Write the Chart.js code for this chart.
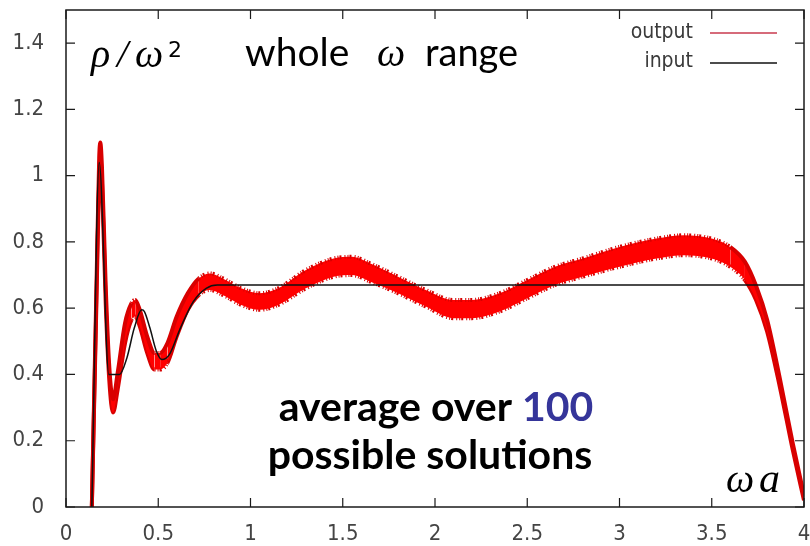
<!DOCTYPE html>
<html>
<head>
<meta charset="utf-8">
<script src="https://cdn.jsdelivr.net/npm/chart.js@4.4.1/dist/chart.umd.min.js"></script>
<style>
  body { margin: 0; background: #fff; }
  #wrap { width: 810px; height: 546px; }
</style>
</head>
<body>
<div id="wrap"><canvas id="myChart" width="810" height="546"></canvas></div>
<script>
// x values (omega a) for the output band
var omega = [0.14, 0.165, 0.18, 0.186, 0.195, 0.215, 0.235, 0.255, 0.28, 0.32, 0.355, 0.375, 0.40, 0.44, 0.48, 0.51,
             0.55, 0.60, 0.66, 0.72, 0.78, 0.85, 0.95, 1.05, 1.15, 1.30, 1.45, 1.55, 1.65, 1.80, 1.95, 2.10,
             2.20, 2.35, 2.50, 2.65, 2.80, 3.00, 3.20, 3.35, 3.50, 3.60, 3.68, 3.74, 3.80, 3.87, 3.94, 4.00];
// lower / upper edge of the noisy red band
var outputLow = [0.00, 0.62, 1.00, 1.055, 0.98, 0.62, 0.38, 0.285, 0.355, 0.495, 0.565, 0.575, 0.545, 0.465, 0.415, 0.415,
                 0.435, 0.515, 0.595, 0.64, 0.655, 0.64, 0.61, 0.595, 0.61, 0.66, 0.695, 0.70, 0.68, 0.645, 0.605, 0.57,
                 0.57, 0.59, 0.63, 0.67, 0.695, 0.725, 0.75, 0.76, 0.75, 0.725, 0.685, 0.625, 0.53, 0.36, 0.17, 0.02];
var outputHigh = [0.00, 0.66, 1.055, 1.10, 1.025, 0.67, 0.42, 0.325, 0.405, 0.555, 0.615, 0.625, 0.595, 0.515, 0.465, 0.465,
                  0.495, 0.575, 0.645, 0.69, 0.705, 0.69, 0.66, 0.645, 0.66, 0.715, 0.75, 0.755, 0.735, 0.695, 0.655, 0.625,
                  0.625, 0.645, 0.685, 0.725, 0.75, 0.785, 0.81, 0.82, 0.81, 0.785, 0.74, 0.668, 0.565, 0.385, 0.19, 0.035];
// input curve
var inputOmega = [0.14, 0.18, 0.232, 0.29, 0.33, 0.37, 0.41, 0.425, 0.455, 0.49, 0.52, 0.56, 0.62, 0.69, 0.76, 0.82, 4.0];
var inputRho = [0.00, 1.04, 0.40, 0.40, 0.45, 0.54, 0.595, 0.59, 0.54, 0.47, 0.445, 0.46, 0.54, 0.62, 0.66, 0.67, 0.67];

var xTicks = [0, 0.5, 1, 1.5, 2, 2.5, 3, 3.5, 4];
var yTicks = [0, 0.2, 0.4, 0.6, 0.8, 1, 1.2, 1.4];

var tickFamily = '"DejaVu Sans Condensed", "DejaVu Sans", sans-serif';

function pts(xs, ys) {
    return xs.map(function(x, i) { return { x: x, y: ys[i] }; });
}

// noisy edge: short dashes on flat parts, solid where the curve is steep
function edgeDash(c) {
    var dx = Math.abs(c.p1.x - c.p0.x), dy = Math.abs(c.p1.y - c.p0.y);
    return dy > dx ? [] : [1, 2, 1, 1, 2, 3];
}

// frame + inward ticks on all sides (gnuplot look)
var framePlugin = {
    id: 'frame',
    afterDatasetsDraw: function(chart) {
        var c = chart.ctx, a = chart.chartArea;
        var xs = chart.scales.x, ys = chart.scales.y;
        c.save();
        c.strokeStyle = '#1a1a1a';
        c.lineWidth = 1.5;
        c.strokeRect(a.left, a.top, a.right - a.left, a.bottom - a.top);
        c.lineWidth = 1.2;
        c.beginPath();
        xTicks.forEach(function(v) {
            var px = xs.getPixelForValue(v);
            c.moveTo(px, a.bottom); c.lineTo(px, a.bottom - 9);
            c.moveTo(px, a.top); c.lineTo(px, a.top + 9);
        });
        yTicks.forEach(function(v) {
            var py = ys.getPixelForValue(v);
            c.moveTo(a.left, py); c.lineTo(a.left + 9, py);
            c.moveTo(a.right, py); c.lineTo(a.right - 9, py);
        });
        c.stroke();
        c.restore();
    }
};

// legend and text labels
var textPlugin = {
    id: 'texts',
    afterDraw: function(chart) {
        var c = chart.ctx;
        c.save();
        // legend
        c.font = '21px ' + tickFamily;
        c.fillStyle = '#3a3a3a';
        c.textAlign = 'right';
        c.textBaseline = 'middle';
        c.fillText('output', 693, 33);
        c.fillText('input', 693, 62);
        c.lineWidth = 1.5;
        c.strokeStyle = '#c83a4e';
        c.beginPath(); c.moveTo(710, 33); c.lineTo(777, 33); c.stroke();
        c.strokeStyle = '#111';
        c.beginPath(); c.moveTo(710, 63); c.lineTo(777, 63); c.stroke();

        // rho / omega^2
        c.fillStyle = '#000';
        c.textAlign = 'left';
        c.textBaseline = 'alphabetic';
        c.font = 'italic 40px "Liberation Serif", serif';
        c.fillText('\u03C1', 91, 67);
        c.fillText('/', 117, 67);
        c.fillText('\u03C9', 135, 67);
        c.font = '22px "DejaVu Sans", sans-serif';
        c.fillText('2', 168, 57);

        // whole omega range
        c.font = '39px Lato, sans-serif';
        c.fillText('whole', 245, 66);
        c.font = 'italic 40px "Liberation Serif", serif';
        c.fillText('\u03C9', 377, 66);
        c.font = '38px Lato, sans-serif';
        c.fillText('range', 425, 66);

        // average over 100
        c.font = 'bold 41px Lato, sans-serif';
        var t1 = 'average over ', t2 = '100';
        var w1 = c.measureText(t1).width, w2 = c.measureText(t2).width;
        var x0 = 436 - (w1 + w2) / 2;
        c.fillStyle = '#000';
        c.fillText(t1, x0, 421);
        c.fillStyle = '#35359a';
        c.fillText(t2, x0 + w1, 421);
        c.fillStyle = '#000';
        c.textAlign = 'center';
        c.fillText('possible solutions', 430, 469);

        // omega a
        c.textAlign = 'left';
        c.font = 'italic 40px "Liberation Serif", serif';
        c.fillText('\u03C9', 726, 492);
        c.font = 'italic 42px "Liberation Serif", serif';
        c.fillText('a', 759, 492);
        c.restore();
    }
};

var ctx = document.getElementById('myChart').getContext('2d');
var myChart = new Chart(ctx, {
    type: 'line',
    data: {
        datasets: [{
            label: 'output-low',
            data: pts(omega, outputLow),
            borderColor: '#d80000',
            borderWidth: 4,
            pointRadius: 0,
            fill: false,
            cubicInterpolationMode: 'monotone',
            segment: { borderDash: edgeDash },
            order: 2
        },
        {
            label: 'output',
            data: pts(omega, outputHigh),
            borderColor: '#d80000',
            backgroundColor: '#ff0000',
            borderWidth: 4,
            pointRadius: 0,
            fill: '-1',
            cubicInterpolationMode: 'monotone',
            segment: { borderDash: edgeDash },
            order: 1
        },
        {
            label: 'input',
            data: pts(inputOmega, inputRho),
            borderColor: '#111',
            borderWidth: 1.5,
            pointRadius: 0,
            fill: false,
            cubicInterpolationMode: 'monotone',
            order: 0
        }]
    },
    options: {
        responsive: false,
        animation: false,
        layout: { padding: { top: 10, right: 6, left: 0, bottom: 0 } },
        plugins: {
            legend: { display: false },
            tooltip: { enabled: false }
        },
        scales: {
            x: {
                type: 'linear',
                min: 0,
                max: 4,
                grid: { display: false },
                border: { display: false },
                afterBuildTicks: function(scale) {
                    scale.ticks = xTicks.map(function(v) { return { value: v }; });
                },
                afterFit: function(scale) {
                    scale.height = 39;
                    scale.paddingLeft = 0;
                    scale.paddingRight = 0;
                },
                ticks: {
                    font: { family: tickFamily, size: 22 },
                    color: '#444',
                    padding: 6,
                    maxRotation: 0,
                    autoSkip: false,
                    callback: function(v) { return String(v); }
                }
            },
            y: {
                min: 0,
                max: 1.5,
                grid: { display: false },
                border: { display: false },
                afterBuildTicks: function(scale) {
                    scale.ticks = yTicks.map(function(v) { return { value: v }; });
                },
                afterFit: function(scale) {
                    scale.width = 66;
                    scale.paddingTop = 0;
                    scale.paddingBottom = 0;
                },
                ticks: {
                    font: { family: tickFamily, size: 22 },
                    color: '#444',
                    padding: 14,
                    autoSkip: false,
                    callback: function(v) { return String(v); }
                }
            }
        }
    },
    plugins: [framePlugin, textPlugin]
});
</script>
</body>
</html>
